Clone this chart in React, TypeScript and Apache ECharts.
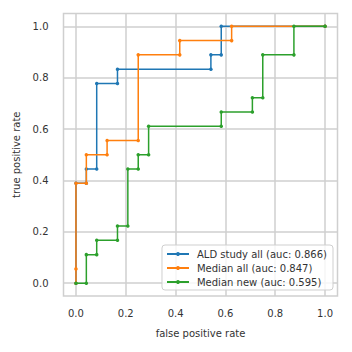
import React, { useEffect, useRef } from "react";
import * as echarts from "echarts";

const tickValues = [0, 0.2, 0.4, 0.6, 0.8, 1.0];

const seriesNames = [
  "ALD study all (auc: 0.866)",
  "Median all (auc: 0.847)",
  "Median new (auc: 0.595)",
];
const seriesColors = ["#1f77b4", "#ff7f0e", "#2ca02c"];

const aldFpr = [0, 0, 0.0417, 0.0417, 0.0833, 0.0833, 0.1667, 0.1667, 0.5417, 0.5417, 0.5833, 0.5833, 1.0];
const aldTpr = [0, 0.3889, 0.3889, 0.4444, 0.4444, 0.7778, 0.7778, 0.8333, 0.8333, 0.8889, 0.8889, 1.0, 1.0];

const medAllFpr = [0, 0, 0, 0.0417, 0.0417, 0.125, 0.125, 0.25, 0.25, 0.4167, 0.4167, 0.625, 0.625, 1.0];
const medAllTpr = [0, 0.0556, 0.3889, 0.3889, 0.5, 0.5, 0.5556, 0.5556, 0.8889, 0.8889, 0.9444, 0.9444, 1.0, 1.0];

const medNewFpr = [0, 0.0417, 0.0417, 0.0833, 0.0833, 0.1667, 0.1667, 0.2083, 0.2083, 0.25, 0.25, 0.2917, 0.2917, 0.5833, 0.5833, 0.7083, 0.7083, 0.75, 0.75, 0.875, 0.875, 1.0];
const medNewTpr = [0, 0, 0.1111, 0.1111, 0.1667, 0.1667, 0.2222, 0.2222, 0.4444, 0.4444, 0.5, 0.5, 0.6111, 0.6111, 0.6667, 0.6667, 0.7222, 0.7222, 0.8889, 0.8889, 1.0, 1.0];

const curves = [
  [aldFpr, aldTpr],
  [medAllFpr, medAllTpr],
  [medNewFpr, medNewTpr],
];

const FONT = "DejaVu Sans";
const GRID_COLOR = "#cfcfcf";
const TEXT_COLOR = "#333333";

export default function App() {
  const ref = useRef<HTMLDivElement>(null);
  useEffect(() => {
    if (!ref.current) return;
    const chart = echarts.init(ref.current, null, { renderer: "svg" });
    const labelStyle = {
      customValues: tickValues,
      fontFamily: FONT,
      fontSize: 10,
      color: TEXT_COLOR,
      formatter: (v: number) => v.toFixed(1),
    };
    const axisCommon = (name: string) => ({
      type: "value",
      min: -0.05,
      max: 1.05,
      name,
      nameLocation: "middle",
      nameTextStyle: { fontFamily: FONT, fontSize: 10, color: TEXT_COLOR },
      axisLine: { show: false },
      axisTick: { show: false, customValues: tickValues },
      splitLine: { show: true, lineStyle: { color: GRID_COLOR, width: 1.5 } },
    });
    chart.setOption({
      animation: false,
      backgroundColor: "#ffffff",
      grid: {
        left: 63.5,
        right: 14.5,
        top: 13.5,
        bottom: 56,
        show: true,
        borderColor: GRID_COLOR,
        borderWidth: 1.5,
        backgroundColor: "transparent",
      },
      xAxis: {
        ...axisCommon("false positive rate"),
        nameGap: 32,
        axisLabel: { ...labelStyle, margin: 12 },
      },
      yAxis: {
        ...axisCommon("true positive rate"),
        nameGap: 36,
        axisLabel: { ...labelStyle, margin: 15 },
      },
      legend: {
        data: seriesNames,
        orient: "vertical",
        right: 19,
        bottom: 62,
        padding: [4, 6, 3, 4],
        itemWidth: 22,
        itemHeight: 5,
        itemGap: 4,
        backgroundColor: "rgba(255,255,255,0.8)",
        borderColor: GRID_COLOR,
        borderWidth: 1,
        borderRadius: 3,
        textStyle: { fontFamily: FONT, fontSize: 10, color: TEXT_COLOR, padding: [0, 0, 0, 3] },
      },
      series: curves.map(([fx, ty], i) => ({
        name: seriesNames[i],
        type: "line",
        data: fx.map((x, j) => [x, ty[j]]),
        color: seriesColors[i],
        lineStyle: { width: 1.5, color: seriesColors[i] },
        itemStyle: { color: seriesColors[i] },
        symbol: "circle",
        symbolSize: 3.5,
        showSymbol: true,
        z: 2 + i,
      })),
    });
    return () => chart.dispose();
  }, []);
  return (
    <div
      ref={ref}
      style={{ position: "fixed", left: 0, top: 0, width: 352, height: 352 }}
    />
  );
}
